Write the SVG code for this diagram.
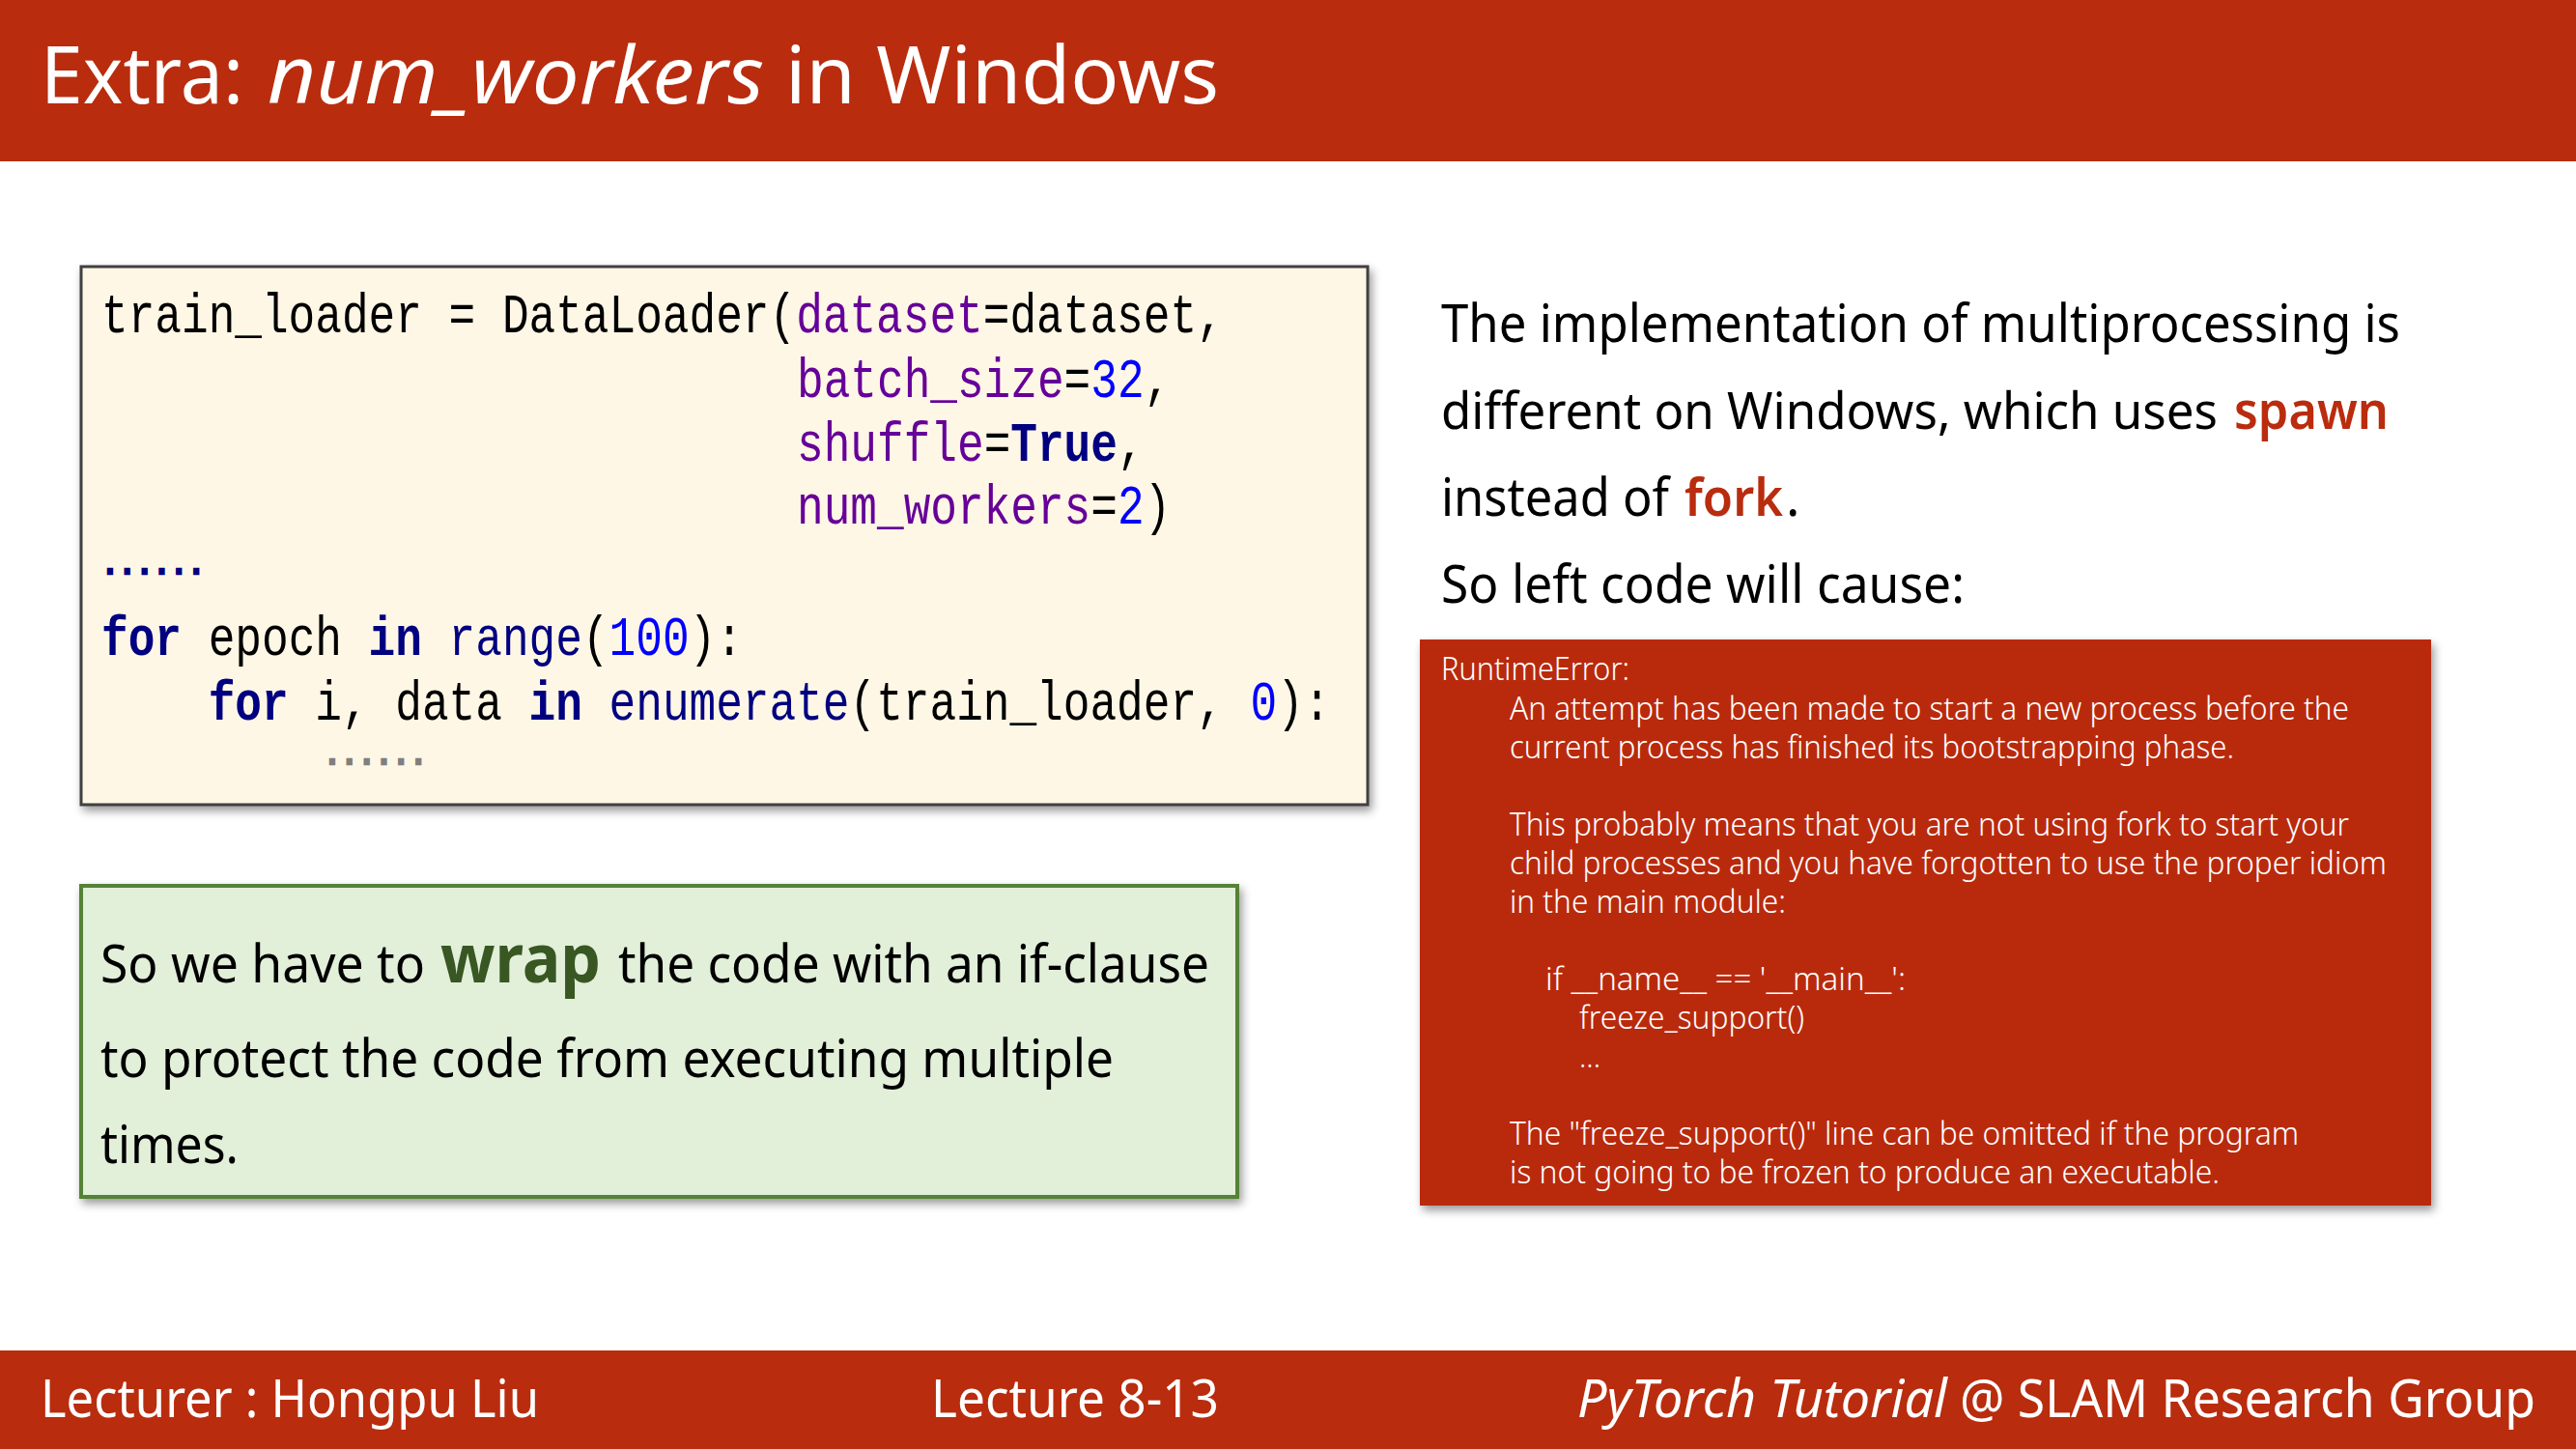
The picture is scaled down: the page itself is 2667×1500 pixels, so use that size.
<svg xmlns="http://www.w3.org/2000/svg" width="2667" height="1500" viewBox="0 0 2667 1500">
<defs>
<style>
.s{font-family:"Noto Sans","Open Sans","Liberation Sans",sans-serif;fill:#000;font-size:54px}
.t{font-size:82px;fill:#fff}
.f{font-size:54px;fill:#fff}
.r{font-size:33px;fill:#fff;font-weight:300}
.c{font-family:"Liberation Mono",monospace;font-size:46.1px;fill:#000;white-space:pre}
.d{font-size:34px;font-weight:bold;stroke-width:2.5px}
.p{fill:#660099}.n{fill:#0000ff}.k{fill:#000080;font-weight:bold}.v{fill:#000080}
.acc{fill:#b92c0e;font-weight:600}
</style>
<filter id="sh" x="-3%" y="-5%" width="106%" height="110%"><feDropShadow dx="3" dy="5" stdDeviation="5" flood-color="#000" flood-opacity="0.4"/></filter>
</defs>
<rect width="2667" height="1500" fill="#fff"/>
<g id="header">
<rect width="2667" height="167" fill="#b92c0e"/>
<text class="s t" x="42" y="107" textLength="210" lengthAdjust="spacingAndGlyphs">Extra:</text>
<text class="s t" x="277" y="107" font-style="italic" textLength="514" lengthAdjust="spacingAndGlyphs">num_workers</text>
<text class="s t" x="813" y="107" textLength="449" lengthAdjust="spacingAndGlyphs">in Windows</text>
</g>
<g id="code-box">
<rect x="84" y="276" width="1332" height="557" fill="#fff7e6" stroke="#3f3f3f" stroke-width="3" filter="url(#sh)"/>
<text class="c" transform="translate(105,344) scale(1,1.25)">train_loader = DataLoader(<tspan class="p">dataset</tspan>=dataset,</text>
<text class="c" transform="translate(825,411) scale(1,1.25)"><tspan class="p">batch_size</tspan>=<tspan class="n">32</tspan>,</text>
<text class="c" transform="translate(825,477) scale(1,1.25)"><tspan class="p">shuffle</tspan>=<tspan class="k">True</tspan>,</text>
<text class="c" transform="translate(825,542) scale(1,1.25)"><tspan class="p">num_workers</tspan>=<tspan class="n">2</tspan>)</text>
<text class="c d k" x="105" y="594" textLength="107" lengthAdjust="spacingAndGlyphs" style="stroke:#000080">......</text>
<text class="c" transform="translate(105,678) scale(1,1.25)"><tspan class="k">for</tspan> epoch <tspan class="k">in</tspan> <tspan class="v">range</tspan>(<tspan class="n">100</tspan>):</text>
<text class="c" transform="translate(105,745) scale(1,1.25)">    <tspan class="k">for</tspan> i, data <tspan class="k">in</tspan> <tspan class="v">enumerate</tspan>(train_loader, <tspan class="n">0</tspan>):</text>
<text class="c d" x="335" y="791" textLength="107" lengthAdjust="spacingAndGlyphs" style="fill:#7f7f7f;stroke:#7f7f7f">......</text>
</g>
<g id="note-box">
<rect x="84" y="917" width="1197" height="322" fill="#e2efd9" stroke="#548235" stroke-width="4" filter="url(#sh)"/>
<text class="s" x="104" y="1017" textLength="336" lengthAdjust="spacingAndGlyphs">So we have to</text>
<text class="s" x="456" y="1017" textLength="166" lengthAdjust="spacingAndGlyphs" style="font-size:70px;font-weight:700;fill:#385723">wrap</text>
<text class="s" x="640" y="1017" textLength="612" lengthAdjust="spacingAndGlyphs">the code with an if-clause</text>
<text class="s" x="104" y="1115" textLength="1049" lengthAdjust="spacingAndGlyphs">to protect the code from executing multiple</text>
<text class="s" x="104" y="1204" textLength="143" lengthAdjust="spacingAndGlyphs">times.</text>
</g>
<g id="explanation">
<text class="s" x="1492" y="354" textLength="993" lengthAdjust="spacingAndGlyphs">The implementation of multiprocessing is</text>
<text class="s" x="1492" y="444" textLength="804" lengthAdjust="spacingAndGlyphs" style="font-size:52.5px">different on Windows, which uses</text>
<text class="s acc" x="2313" y="444" textLength="160" lengthAdjust="spacingAndGlyphs">spawn</text>
<text class="s" x="1492" y="534" textLength="236" lengthAdjust="spacingAndGlyphs">instead of</text>
<text class="s acc" x="1744" y="534" textLength="102" lengthAdjust="spacingAndGlyphs">fork</text>
<text class="s" x="1849" y="534">.</text>
<text class="s" x="1492" y="624" textLength="542" lengthAdjust="spacingAndGlyphs">So left code will cause:</text>
</g>
<g id="error-box">
<rect x="1470" y="662" width="1047" height="586" fill="#b92c0e" filter="url(#sh)"/>
<text class="s r" x="1492" y="704" textLength="195" lengthAdjust="spacingAndGlyphs">RuntimeError:</text>
<text class="s r" x="1563" y="745" textLength="869" lengthAdjust="spacingAndGlyphs">An attempt has been made to start a new process before the</text>
<text class="s r" x="1563" y="785" textLength="750" lengthAdjust="spacingAndGlyphs">current process has finished its bootstrapping phase.</text>
<text class="s r" x="1563" y="865" textLength="869" lengthAdjust="spacingAndGlyphs">This probably means that you are not using fork to start your</text>
<text class="s r" x="1563" y="905" textLength="908" lengthAdjust="spacingAndGlyphs">child processes and you have forgotten to use the proper idiom</text>
<text class="s r" x="1563" y="945" textLength="286" lengthAdjust="spacingAndGlyphs">in the main module:</text>
<text class="s r" x="1600" y="1025" textLength="373" lengthAdjust="spacingAndGlyphs">if __name__ == '__main__':</text>
<text class="s r" x="1635" y="1065" textLength="233" lengthAdjust="spacingAndGlyphs">freeze_support()</text>
<text class="s r" x="1635" y="1105" textLength="22" lengthAdjust="spacingAndGlyphs">...</text>
<text class="s r" x="1563" y="1185" textLength="817" lengthAdjust="spacingAndGlyphs">The "freeze_support()" line can be omitted if the program</text>
<text class="s r" x="1563" y="1225" textLength="735" lengthAdjust="spacingAndGlyphs">is not going to be frozen to produce an executable.</text>
</g>
<g id="footer">
<rect y="1398" width="2667" height="102" fill="#b92c0e"/>
<text class="s f" x="42" y="1467" textLength="516" lengthAdjust="spacingAndGlyphs">Lecturer : Hongpu Liu</text>
<text class="s f" x="964" y="1467" textLength="298" lengthAdjust="spacingAndGlyphs">Lecture 8-13</text>
<text class="s f" x="1633" y="1467" font-style="italic" textLength="383" lengthAdjust="spacingAndGlyphs">PyTorch Tutorial</text>
<text class="s f" x="2029" y="1467" textLength="596" lengthAdjust="spacingAndGlyphs">@ SLAM Research Group</text>
</g>
<g id="connectors"/>
</svg>
